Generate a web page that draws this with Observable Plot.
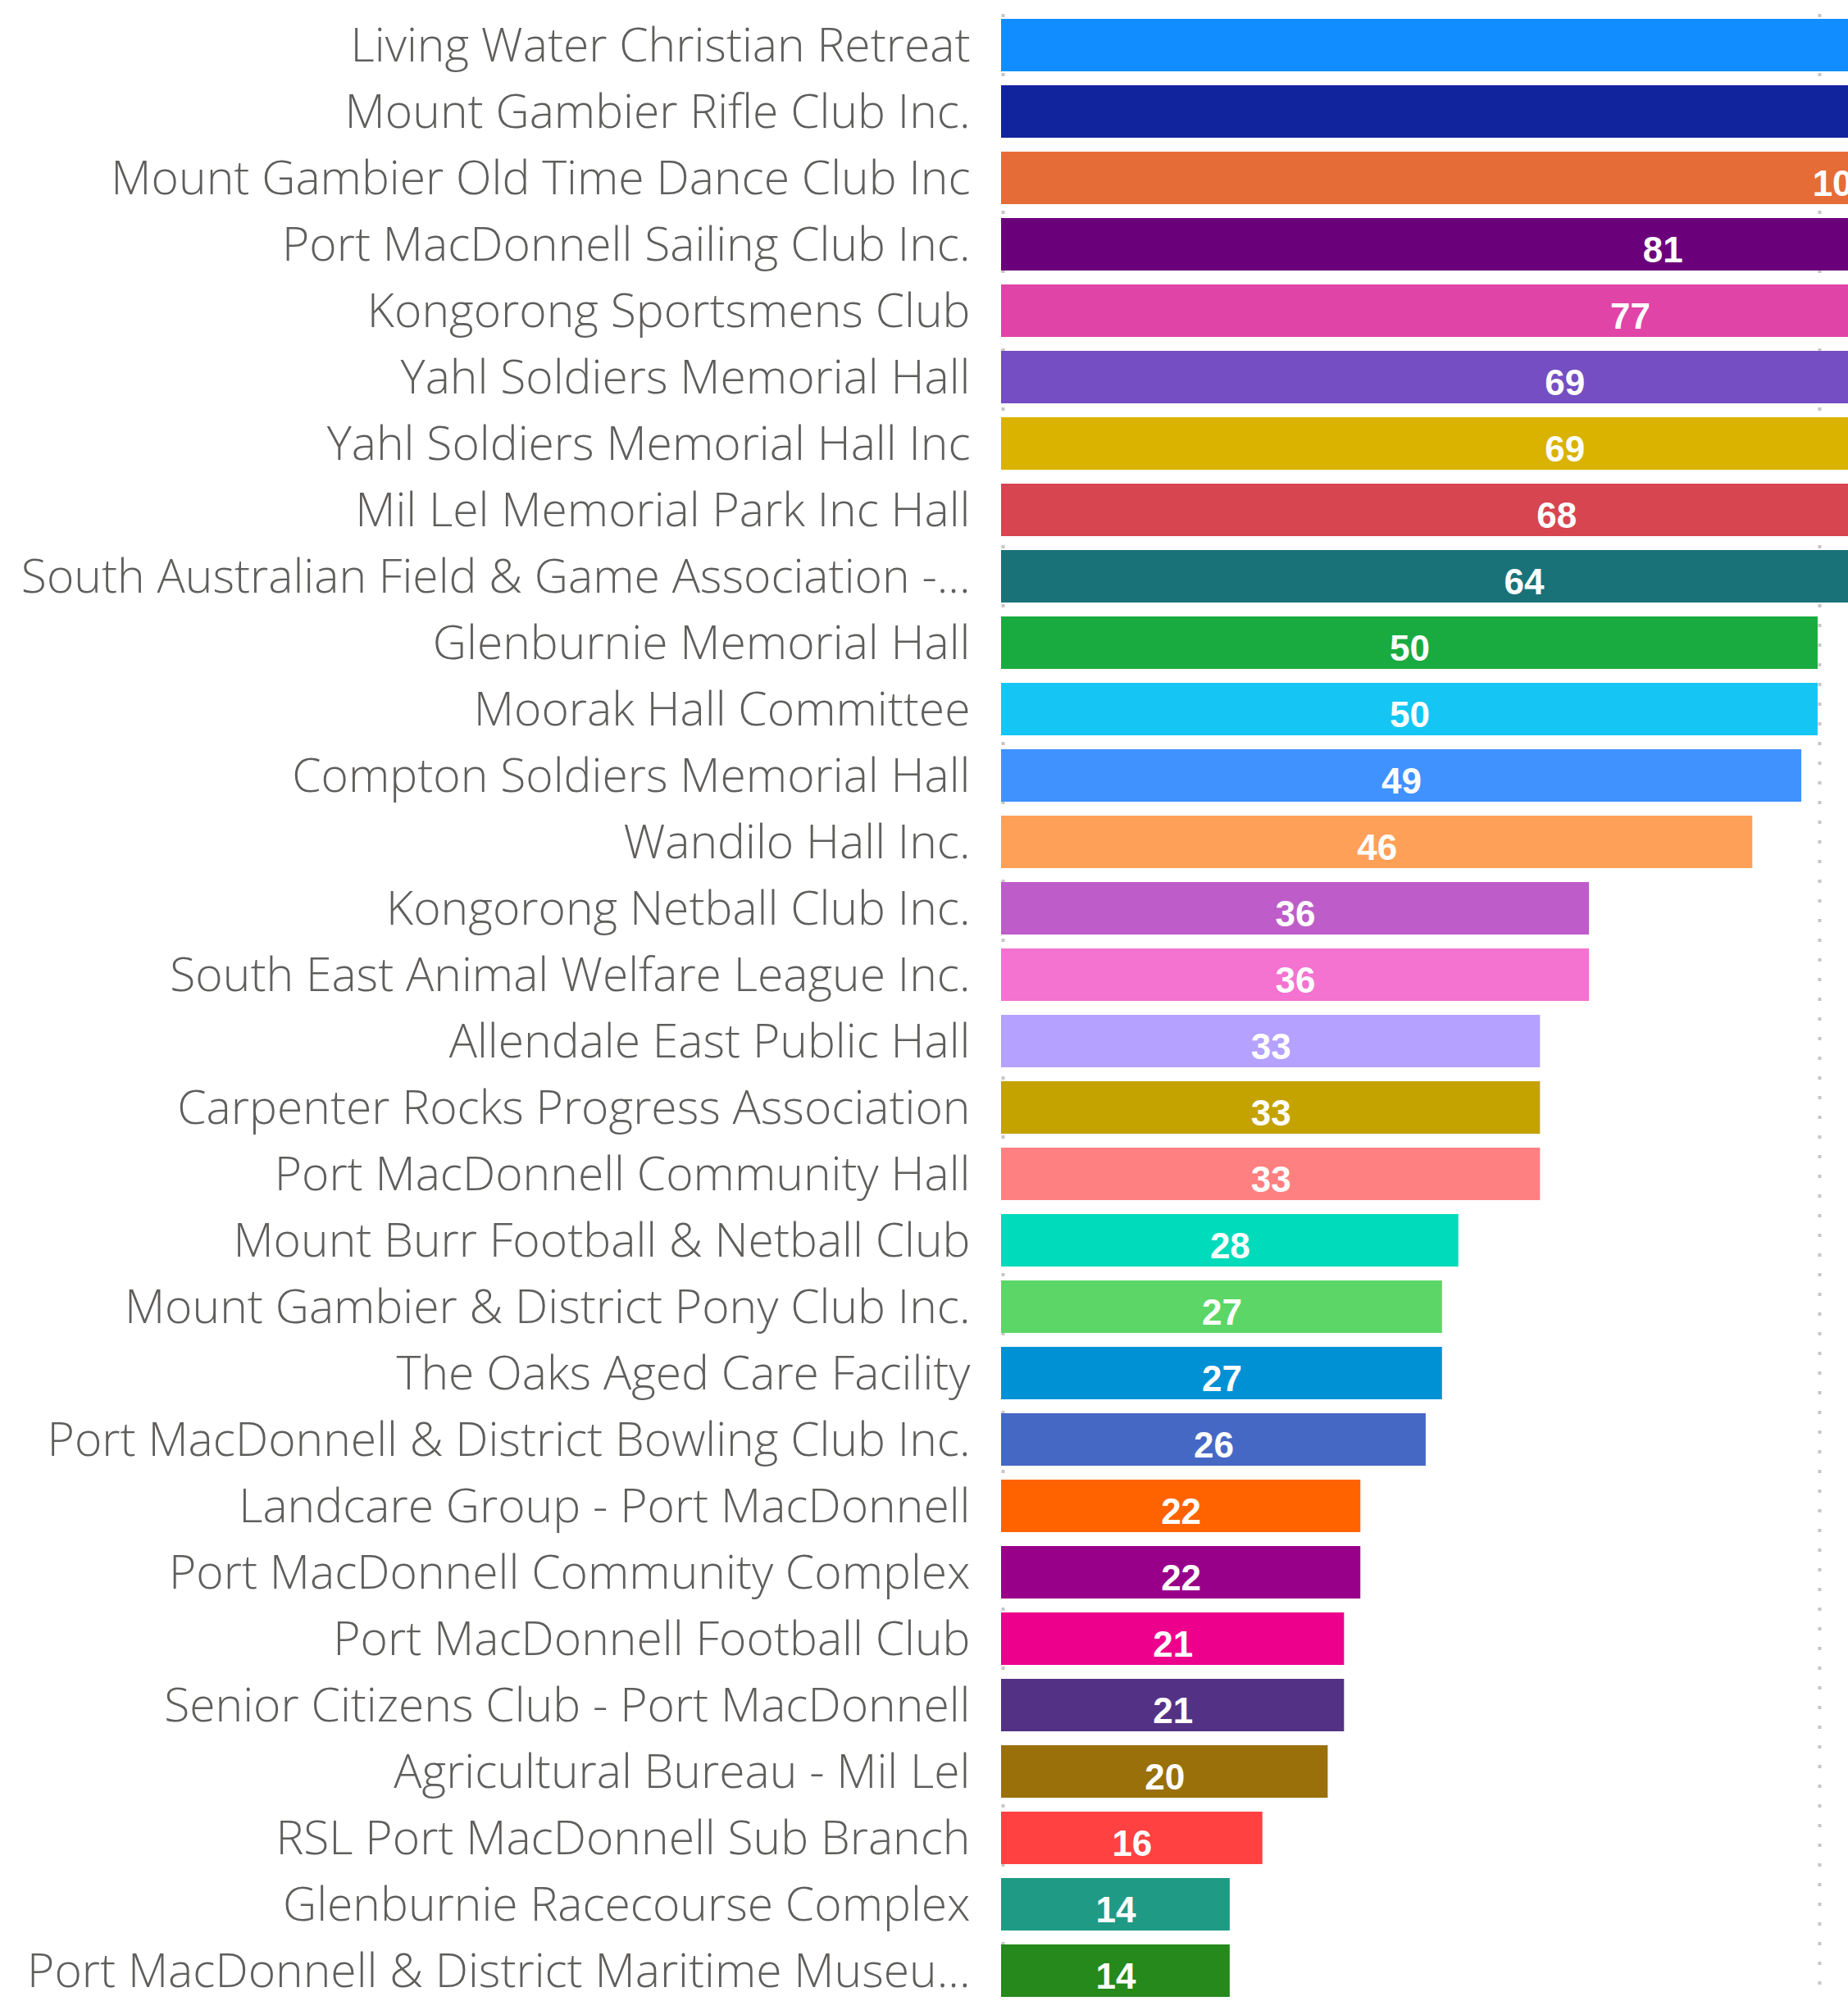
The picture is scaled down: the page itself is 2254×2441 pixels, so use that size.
<!DOCTYPE html>
<html><head><meta charset="utf-8">
<script src="https://cdn.jsdelivr.net/npm/d3@7"></script>
<script src="https://cdn.jsdelivr.net/npm/@observablehq/plot@0.6"></script>
<style>
html, body { margin: 0; padding: 0; background: #ffffff; }
#chart { width: 2254px; height: 2441px; overflow: hidden; }
#chart svg { overflow: hidden; max-width: none; }
</style>
</head><body>
<div id="chart"></div>
<script>
const names = [
  "Living Water Christian Retreat",
  "Mount Gambier Rifle Club Inc.",
  "Mount Gambier Old Time Dance Club Inc",
  "Port MacDonnell Sailing Club Inc.",
  "Kongorong Sportsmens Club",
  "Yahl Soldiers Memorial Hall",
  "Yahl Soldiers Memorial Hall Inc",
  "Mil Lel Memorial Park Inc Hall",
  "South Australian Field & Game Association -...",
  "Glenburnie Memorial Hall",
  "Moorak Hall Committee",
  "Compton Soldiers Memorial Hall",
  "Wandilo Hall Inc.",
  "Kongorong Netball Club Inc.",
  "South East Animal Welfare League Inc.",
  "Allendale East Public Hall",
  "Carpenter Rocks Progress Association",
  "Port MacDonnell Community Hall",
  "Mount Burr Football & Netball Club",
  "Mount Gambier & District Pony Club Inc.",
  "The Oaks Aged Care Facility",
  "Port MacDonnell & District Bowling Club Inc.",
  "Landcare Group - Port MacDonnell",
  "Port MacDonnell Community Complex",
  "Port MacDonnell Football Club",
  "Senior Citizens Club - Port MacDonnell",
  "Agricultural Bureau - Mil Lel",
  "RSL Port MacDonnell Sub Branch",
  "Glenburnie Racecourse Complex",
  "Port MacDonnell & District Maritime Museu..."
];
const values = [130, 115, 103, 81, 77, 69, 69, 68, 64, 50, 50, 49, 46, 36, 36, 33, 33, 33, 28, 27, 27, 26, 22, 22, 21, 21, 20, 16, 14, 14];
const colors = [
  "#118DFF", "#12239E", "#E66C37", "#6B007B", "#E044A7", "#744EC2", "#D9B300", "#D64550",
  "#197278", "#1AAB40", "#15C6F4", "#4092FF", "#FFA058", "#BE5DC9", "#F472D0", "#B5A1FF",
  "#C4A200", "#FF8080", "#00DBBC", "#5BD667", "#0091D5", "#4668C5", "#FF6300", "#99008A",
  "#EC008C", "#533285", "#99700A", "#FF4141", "#1F9A85", "#25891C"
];
const gridValues = [0, 50, 100];

const data = names.map((name, i) => ({name, value: values[i], color: colors[i]}));

const chart = Plot.plot({
  width: 2254,
  height: 2441,
  marginLeft: 1221,
  marginRight: 0,
  marginTop: 17,
  marginBottom: 0,
  style: {background: "#ffffff", overflow: "hidden"},
  x: {domain: [0, 51.86], axis: null},
  y: {domain: names, axis: null, paddingInner: 0.21, paddingOuter: 0.05},
  marks: [
    Plot.ruleX(gridValues, {stroke: "#C8C6C4", strokeWidth: 4, strokeDasharray: "4,20", dx: 2, clip: true}),
    Plot.barX(data, {x: "value", y: "name", fill: "color", clip: true}),
    Plot.text(data, {
      x: d => d.value / 2, y: "name", text: d => String(d.value),
      fill: "#ffffff", fontSize: 44, fontWeight: "bold", fontFamily: "Liberation Sans",
      dy: 7, clip: true
    }),
    Plot.text(data, {
      x: 0, y: "name", text: "name", textAnchor: "end", dx: -38, dy: 1,
      fill: "#5F5E5C", fontSize: 57, fontWeight: 330, fontFamily: "Open Sans"
    })
  ]
});
document.getElementById("chart").appendChild(chart);
</script></body></html>
